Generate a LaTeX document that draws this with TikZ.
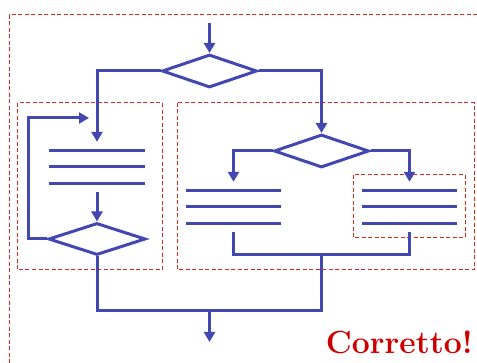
\documentclass[tikz,border=0pt]{standalone}
\usetikzlibrary{shapes.geometric,arrows.meta}
\definecolor{flowblue}{RGB}{66,72,176}
\definecolor{boxred}{RGB}{220,40,30}
\definecolor{txtred}{RGB}{204,0,0}
\tikzset{
  flow/.style={draw=flowblue,line width=3pt},
  arr/.style={flow,-{Triangle[length=10pt,width=11pt]}},
  dec/.style={diamond,flow,inner sep=0pt,minimum width=95pt,minimum height=33pt,aspect=2.9},
  stmt/.style={rectangle,draw=none,inner sep=0pt,minimum width=96pt,minimum height=50pt},
  grp/.style={draw=boxred,line width=1pt,dash pattern=on 4pt off 2.5pt},
}
\begin{document}
\begin{tikzpicture}[x=1pt,y=-1pt]
\useasboundingbox (0,0) rectangle (477,363);
% dashed groups
\draw[grp] (477,15) -- (9,15) -- (9,363);
\draw[grp] (17,103) rectangle (162,270);
\draw[grp] (177,103) rectangle (474,270);
\draw[grp] (353,175) rectangle (465,238);
% nodes
\coordinate (start) at (209.5,23);
\node[dec] (d1) at (209.5,71) {};
\node[dec] (d2) at (321.5,151) {};
\node[dec,minimum width=97pt,minimum height=32pt] (d3) at (97,239) {};
\node[stmt] (s1) at (97,167) {};
\node[stmt,minimum width=95pt] (s2) at (233.5,207) {};
\node[stmt,minimum width=95pt] (s3) at (409.5,207) {};
\coordinate (lp) at (89,118);
\coordinate (j1) at (321.5,255);
\coordinate (j2) at (209.5,311);
\coordinate (end) at (209.5,342);
% statement lines
\foreach \n in {s1,s2,s3}{
  \draw[flow] ([yshift=-9pt]\n.north west) -- ([yshift=-9pt]\n.north east);
  \draw[flow] (\n.west) -- (\n.east);
  \draw[flow] ([yshift=9pt]\n.south west) -- ([yshift=9pt]\n.south east);
}
% connectors
\draw[arr] (start) -- (d1.north);
\draw[arr] (d1.west) -| (s1.north);
\draw[arr] (d1.east) -| (d2.north);
\draw[arr] (s1.south) -- (d3.north);
\draw[arr] (d3.west) -- ++(-19,0) |- (lp);
\draw[arr] (d2.west) -| (s2.north);
\draw[arr] (d2.east) -| (s3.north);
\draw[flow] (s2.south) |- (j1) -| (s3.south);
\draw[flow] (d3.south) |- (j2) -| (j1);
\draw[arr] (j2) -- (end);
% label
\node[anchor=base east,inner sep=0pt,text=txtred,font=\fontsize{32}{38}\selectfont\bfseries] (lbl) at (473,354) {Corretto!};
\end{tikzpicture}
\end{document}
